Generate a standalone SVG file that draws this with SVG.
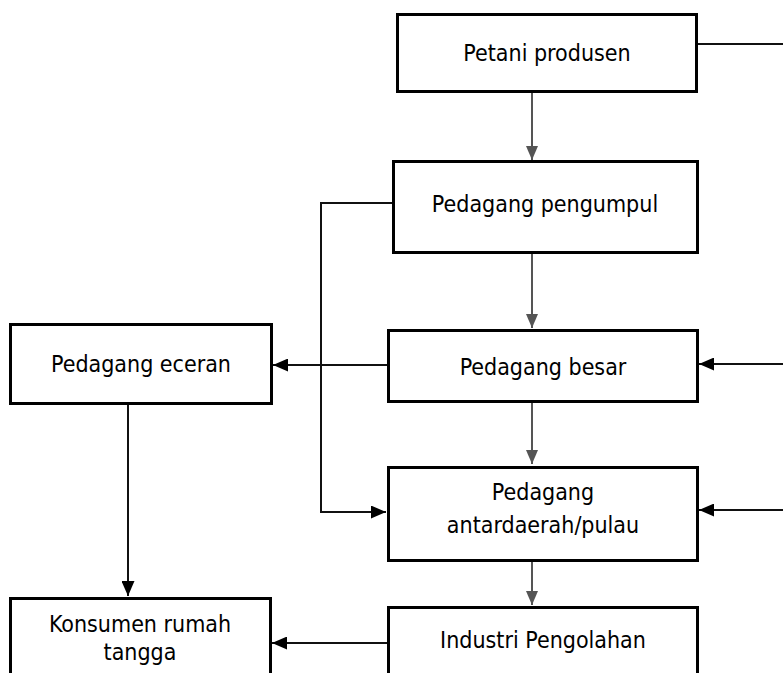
<svg xmlns="http://www.w3.org/2000/svg" width="783" height="673" viewBox="0 0 783 673">
<style>
.box{fill:#fff;stroke:#000;stroke-width:3}
.lbl{font-family:"DejaVu Sans Condensed","DejaVu Sans",sans-serif;font-stretch:condensed;font-size:23px;fill:#000;text-anchor:middle}
.g{stroke:#555;stroke-width:2;fill:none}
.k{stroke:#111;stroke-width:2;fill:none}
</style>
<defs>
<marker id="ag" markerUnits="userSpaceOnUse" markerWidth="14" markerHeight="12" refX="14" refY="6" orient="auto"><path d="M0,0 L14,6 L0,12 z" fill="#555"/></marker>
<marker id="ak" markerUnits="userSpaceOnUse" markerWidth="15" markerHeight="13" refX="15" refY="6.5" orient="auto"><path d="M0,0 L15,6.5 L0,13 z" fill="#000"/></marker>
</defs>
<rect width="783" height="673" fill="#fff"/>
<g id="connectors">
<line class="g" x1="532" y1="93" x2="532" y2="160" marker-end="url(#ag)"/>
<line class="k" x1="698" y1="44" x2="783" y2="44"/>
<line class="g" x1="532" y1="254" x2="532" y2="328" marker-end="url(#ag)"/>
<polyline class="k" points="392,203 321,203 321,512 386,512" marker-end="url(#ak)"/>
<line class="k" x1="387" y1="365" x2="273" y2="365" marker-end="url(#ak)"/>
<line class="k" x1="783" y1="364" x2="699" y2="364" marker-end="url(#ak)"/>
<line class="g" x1="532" y1="403" x2="532" y2="464" marker-end="url(#ag)"/>
<line class="k" x1="783" y1="510" x2="699" y2="510" marker-end="url(#ak)"/>
<line class="g" x1="532" y1="562" x2="532" y2="605" marker-end="url(#ag)"/>
<line class="k" x1="128" y1="405" x2="128" y2="596" marker-end="url(#ak)"/>
<line class="k" x1="387" y1="643" x2="272" y2="643" marker-end="url(#ak)"/>
</g>
<g id="petani"><rect class="box" x="397.5" y="14.5" width="299" height="77"/><text class="lbl" x="547" y="61">Petani produsen</text></g>
<g id="pengumpul"><rect class="box" x="393.5" y="161.5" width="304" height="91"/><text class="lbl" x="545" y="212">Pedagang pengumpul</text></g>
<g id="besar"><rect class="box" x="388.5" y="330.5" width="309" height="71"/><text class="lbl" x="543" y="375">Pedagang besar</text></g>
<g id="eceran"><rect class="box" x="10.5" y="324.5" width="261" height="79"/><text class="lbl" x="141" y="372">Pedagang eceran</text></g>
<g id="antardaerah"><rect class="box" x="388.5" y="467.5" width="309" height="93"/><text class="lbl" x="543" y="500">Pedagang</text><text class="lbl" x="543" y="533">antardaerah/pulau</text></g>
<g id="industri"><rect class="box" x="388.5" y="607.5" width="309" height="100"/><text class="lbl" x="543" y="648">Industri Pengolahan</text></g>
<g id="konsumen"><rect class="box" x="10.5" y="598.5" width="260" height="100"/><text class="lbl" x="140" y="632">Konsumen rumah</text><text class="lbl" x="140" y="660">tangga</text></g>
</svg>
